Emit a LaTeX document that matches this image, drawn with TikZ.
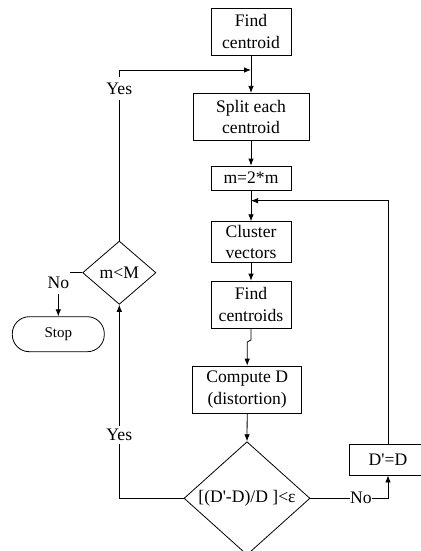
\documentclass[tikz,border=0pt]{standalone}
\usepackage{fontspec}
\setmainfont{Liberation Serif}
\usetikzlibrary{shapes.geometric,arrows.meta}
\begin{document}
\begin{tikzpicture}[x=1pt,y=-1pt,
  line width=0.8pt,
  every node/.style={font=\fontsize{17.6}{21.5}\selectfont},
  procbox/.style={draw,rectangle,inner sep=0pt,align=center},
  decide/.style={draw,diamond,inner sep=0pt},
  termbox/.style={draw,rectangle,rounded corners=17pt,inner sep=0pt,minimum width=92pt,minimum height=35pt,font=\fontsize{15}{18}\selectfont},
  lbl/.style={fill=white,inner sep=0pt},
  arr/.style={-{Latex[length=7pt,width=5.5pt]}}]
\useasboundingbox (0,0) rectangle (420,551);
\node[procbox,minimum width=80pt,minimum height=46.7pt] (find) at (251,31.7) {Find\\centroid};
\node[procbox,minimum width=116pt,minimum height=47.4pt] (split) at (251,117) {Split each\\centroid};
\node[procbox,minimum width=80pt,minimum height=24pt] (mm) at (251,178) {m=2*m};
\node[procbox,minimum width=80pt,minimum height=40.6pt] (cluster) at (251,242) {Cluster\\vectors};
\node[procbox,minimum width=80pt,minimum height=47.3pt] (findc) at (251,304.7) {Find\\centroids};
\node[procbox,minimum width=109pt,minimum height=47.3pt] (comp) at (247.2,389.7) {Compute D\\(distortion)};
\node[procbox,minimum width=78pt,minimum height=30.7pt] (dd) at (388,459.7) {D\textquotesingle=D};
\node[decide,minimum width=73.3pt,minimum height=63.3pt] (mM) at (119.3,272.7) {m<M};
\node[decide,minimum width=126pt,minimum height=108pt] (big) at (247,498.3) {[(D\textquotesingle-D)/D ]<ε};
\node[termbox] (stop) at (58.3,334.2) {Stop};
\coordinate (j1) at (251,70);
\coordinate (j2) at (251,200.7);
\coordinate (k1) at (251,340);
\coordinate (k2) at (247.2,342);
% main chain
\draw[arr] (find.south) -- (split.north);
\draw[arr] (split.south) -- (mm.north);
\draw[arr] (mm.south) -- (cluster.north);
\draw[arr] (cluster.south) -- (findc.north);
\draw[arr] (findc.south) -- (k1) -- (k2) -- (comp.north);
\draw[arr] (comp.south) -- (big.north);
% loops
\draw[arr] (mM.north) |- (j1);
\node[lbl,minimum width=26pt,minimum height=23pt] (yes1) at (119.3,88.5) {Yes};
\draw[arr] (dd.north) |- (j2);
\draw[arr] (big.west) -| (mM.south);
\node[lbl,minimum width=26pt,minimum height=18pt] (yes2) at (119.3,435) {Yes};
\draw[arr] (big.east) -| (dd.south);
\node[lbl,minimum width=22pt,minimum height=16pt] (no2) at (360.8,498.3) {No};
\draw[arr] (mM.west) -| (stop.north);
\node[lbl,minimum width=23pt,minimum height=22pt] (no1) at (58.3,283) {No};
\end{tikzpicture}
\end{document}
